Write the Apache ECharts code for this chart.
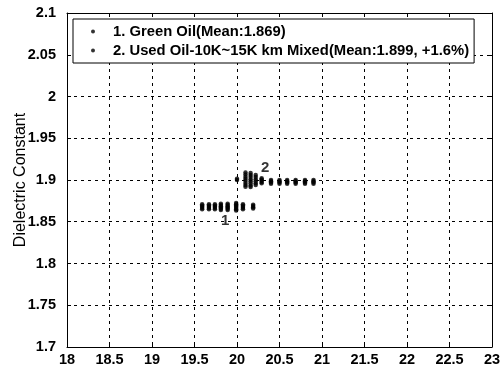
<!DOCTYPE html>
<html>
<head>
<meta charset="utf-8">
<script src="https://cdn.jsdelivr.net/npm/echarts@6/dist/echarts.min.js"></script>
<style>html,body{margin:0;padding:0;background:#fff}#c{width:504px;height:370px}</style>
</head>
<body>
<div id="c"></div>
<script>
// ---- data ----
const seriesNames = ['1. Green Oil(Mean:1.869)', '2. Used Oil-10K~15K km Mixed(Mean:1.899, +1.6%)'];
const xTicks = [18, 18.5, 19, 19.5, 20, 20.5, 21, 21.5, 22, 22.5, 23];
const yTicks = [1.7, 1.75, 1.8, 1.85, 1.9, 1.95, 2, 2.05, 2.1];

const greenX = [19.59, 19.67, 19.74, 19.81, 19.89, 19.99, 20.07, 20.19];
const greenY = [
  [1.871, 1.8695, 1.868, 1.8665, 1.865],
  [1.871, 1.8695, 1.868, 1.8665, 1.865],
  [1.871, 1.8695, 1.868, 1.8665, 1.865],
  [1.8715, 1.870, 1.8685, 1.867, 1.8655, 1.864],
  [1.8715, 1.870, 1.8685, 1.867, 1.8655, 1.864],
  [1.8725, 1.871, 1.8695, 1.868, 1.8665, 1.865, 1.8635],
  [1.871, 1.8695, 1.868, 1.8665, 1.865],
  [1.8705, 1.869, 1.8675, 1.866]
];

const usedX = [20.0, 20.10, 20.16, 20.22, 20.29, 20.40, 20.50, 20.59, 20.69, 20.80, 20.90];
const usedY = [
  [1.9015, 1.900],
  [1.909, 1.9065, 1.904, 1.9015, 1.899, 1.8965, 1.894, 1.892],
  [1.9085, 1.906, 1.9035, 1.901, 1.8985, 1.896, 1.8935, 1.8915],
  [1.906, 1.9035, 1.901, 1.8985, 1.896, 1.894],
  [1.902, 1.9005, 1.899, 1.8975, 1.896],
  [1.900, 1.8985, 1.897, 1.8955],
  [1.900, 1.8985, 1.897, 1.8955],
  [1.900, 1.8985, 1.897, 1.8955],
  [1.900, 1.8985, 1.897, 1.8955],
  [1.900, 1.8985, 1.897, 1.8955],
  [1.900, 1.8985, 1.897, 1.8955]
];

const annotX = [19.86, 20.33];
const annotY = [1.851, 1.915];
const annotText = ['1', '2'];

// ---- build ----
function pairs(xs, ys) {
  const out = [];
  xs.forEach((x, i) => ys[i].forEach(y => out.push([x, y])));
  return out;
}
const FONT = 'Liberation Sans, Arial, sans-serif';
const xMin = xTicks[0], xMax = xTicks[xTicks.length - 1];
const yMin = yTicks[0], yMax = yTicks[yTicks.length - 1];

const chart = echarts.init(document.getElementById('c'), null, {renderer: 'canvas'});
const baseAxisLine = {show: true, lineStyle: {color: '#000', width: 1}};
const tick = {show: true, inside: true, length: 4, lineStyle: {color: '#000'}};
const split = {show: true, lineStyle: {color: '#000', type: [3, 4], width: 1}};

chart.setOption({
  animation: false,
  backgroundColor: '#fff',
  grid: {left: 67, right: 12, top: 13, bottom: 23, containLabel: false, outerBoundsMode: 'none'},
  legend: {
    orient: 'vertical', left: 73, top: 19,
    data: seriesNames,
    icon: 'circle', itemWidth: 4, itemHeight: 4, itemGap: 4,
    padding: [5, 5, 5, 18],
    backgroundColor: '#fff', borderColor: '#000', borderWidth: 1, borderRadius: 0,
    z: 10,
    textStyle: {fontFamily: FONT, fontWeight: 'bold', fontSize: 14.8, color: '#000', padding: [0, 0, 0, 13]}
  },
  xAxis: [
    {type: 'value', min: xMin, max: xMax, interval: 0.5, position: 'bottom',
     axisLine: baseAxisLine, axisTick: tick, splitLine: split,
     axisLabel: {fontFamily: FONT, fontWeight: 'bold', fontSize: 14.5, color: '#000', margin: 5}},
    {type: 'value', min: xMin, max: xMax, interval: 0.5, position: 'top',
     axisLine: baseAxisLine, axisTick: tick, splitLine: {show: false}, axisLabel: {show: false}}
  ],
  yAxis: [
    {type: 'value', min: yMin, max: yMax, interval: 0.05, position: 'left',
     name: 'Dielectric Constant', nameLocation: 'middle', nameGap: 38, nameRotate: 90,
     nameMoveOverlap: false,
     nameTextStyle: {fontFamily: FONT, fontSize: 16, color: '#000'},
     axisLine: baseAxisLine, axisTick: tick, splitLine: split,
     axisLabel: {fontFamily: FONT, fontWeight: 'bold', fontSize: 14.5, color: '#000', margin: 11}},
    {type: 'value', min: yMin, max: yMax, interval: 0.05, position: 'right',
     axisLine: baseAxisLine, axisTick: tick, splitLine: {show: false}, axisLabel: {show: false}}
  ],
  series: [
    {name: seriesNames[0], type: 'scatter', symbol: 'circle', symbolSize: 4.5,
     itemStyle: {color: '#000'}, data: pairs(greenX, greenY), z: 3},
    {name: seriesNames[1], type: 'scatter', symbol: 'circle', symbolSize: 4.5,
     itemStyle: {color: '#000'}, data: pairs(usedX, usedY), z: 3},
    {name: 'annot', type: 'scatter', symbolSize: 0, silent: true,
     data: annotX.map((x, i) => ({value: [x, annotY[i]], name: annotText[i]})),
     label: {show: true, position: 'inside', formatter: p => p.name,
             fontFamily: FONT, fontWeight: 'bold', fontSize: 15, color: '#000'}}
  ]
});
</script>
</body>
</html>
